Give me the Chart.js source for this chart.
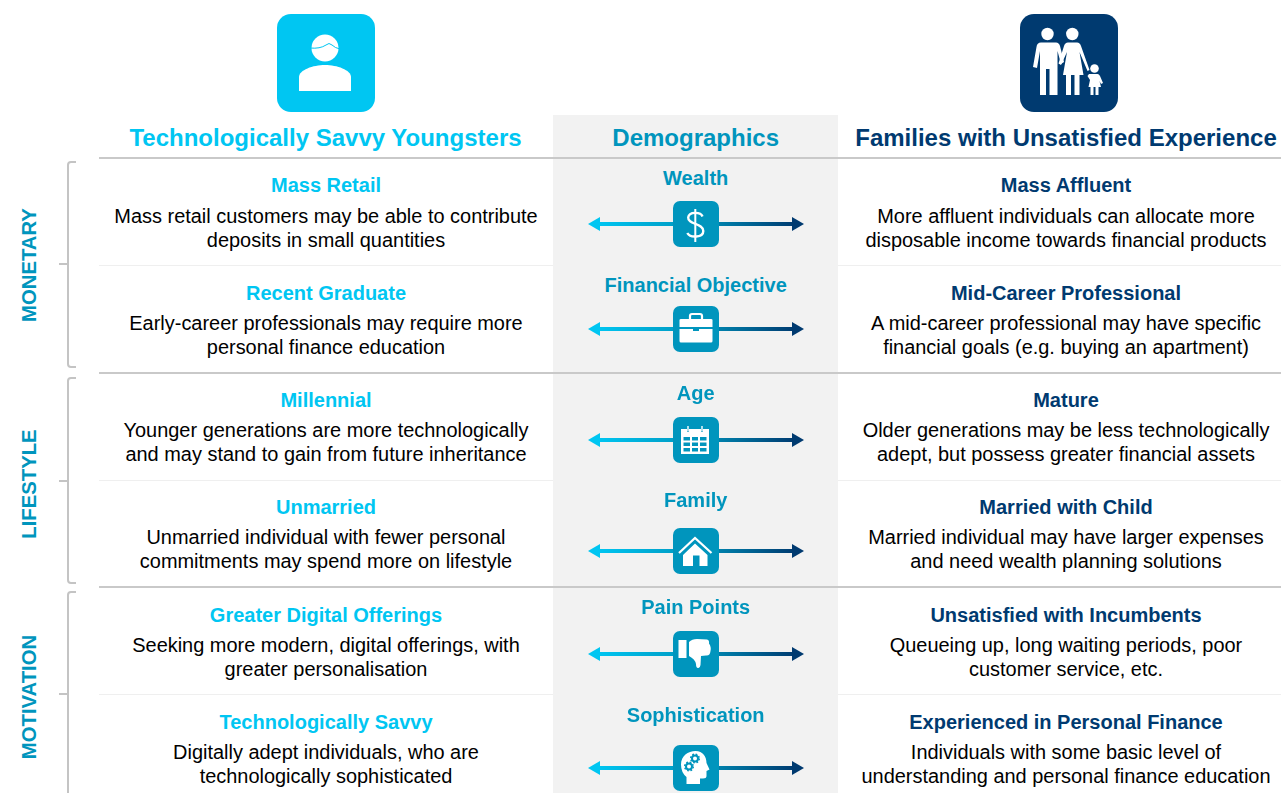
<!DOCTYPE html>
<html>
<head>
<meta charset="utf-8">
<title>Demographics</title>
<script src="https://cdn.jsdelivr.net/npm/chart.js@4"></script>
<style>
  html, body { margin: 0; padding: 0; background: #fff; overflow: hidden; }
  #page { position: relative; width: 1281px; height: 793px; overflow: hidden; font-family: "Liberation Sans", Arial, sans-serif; }
  #page div.t { position: absolute; text-align: center; white-space: nowrap; transform: translate(-50%, -50%); }
  .hdr { font-size: 24px; font-weight: bold; }
  .ttl { font-size: 20px; font-weight: bold; }
  .dem { font-size: 20px; font-weight: bold; color: #0095bd; }
  .bdy { font-size: 19.96px; line-height: 24px; color: #000; }
  .sec { font-size: 20.3px; font-weight: bold; color: #0095bd; }
  #column { position: absolute; left: 553px; top: 115px; width: 285px; height: 678px; background: #f2f2f2; }
  svg { position: absolute; left: 0; top: 0; }
  canvas { position: absolute; }
</style>
</head>
<body>
<div id="page"><div id="column"></div></div>
<script>
const headers = ['Technologically Savvy Youngsters', 'Demographics', 'Families with Unsatisfied Experience'];
const sections = ['MONETARY', 'LIFESTYLE', 'MOTIVATION'];
const demographics = ['Wealth', 'Financial Objective', 'Age', 'Family', 'Pain Points', 'Sophistication'];
const leftTitles = ['Mass Retail', 'Recent Graduate', 'Millennial', 'Unmarried', 'Greater Digital Offerings', 'Technologically Savvy'];
const leftBodies = [
  ['Mass retail customers may be able to contribute', 'deposits in small quantities'],
  ['Early-career professionals may require more', 'personal finance education'],
  ['Younger generations are more technologically', 'and may stand to gain from future inheritance'],
  ['Unmarried individual with fewer personal', 'commitments may spend more on lifestyle'],
  ['Seeking more modern, digital offerings, with', 'greater personalisation'],
  ['Digitally adept individuals, who are', 'technologically sophisticated']
];
const rightTitles = ['Mass Affluent', 'Mid-Career Professional', 'Mature', 'Married with Child', 'Unsatisfied with Incumbents', 'Experienced in Personal Finance'];
const rightBodies = [
  ['More affluent individuals can allocate more', 'disposable income towards financial products'],
  ['A mid-career professional may have specific', 'financial goals (e.g. buying an apartment)'],
  ['Older generations may be less technologically', 'adept, but possess greater financial assets'],
  ['Married individual may have larger expenses', 'and need wealth planning solutions'],
  ['Queueing up, long waiting periods, poor', 'customer service, etc.'],
  ['Individuals with some basic level of', 'understanding and personal finance education']
];
const arrowLeftX = [-1, 0];
const arrowRightX = [0, 1];
const arrowLevel = [0, 0];

// layout (page pixels)
const titleTop = [185, 293, 400, 507, 615, 722];
const bodyTop = [228, 335, 442, 549, 657, 764];
const demTop = [178, 285, 393, 500, 607, 715];
const arrowTop = [224, 329, 440, 551, 654, 768];
const sectionTop = [265, 484, 697];
const brackets = [[162, 264, 367], [378, 481, 583], [592, 694, 820]];
const strongRules = [158, 373, 587];
const faintRules = [265, 480, 694];
const LEFT_X = 326, MID_X = 695.7, RIGHT_X = 1066;
const CYAN = '#00c6f2', TEAL = '#0095bd', NAVY = '#003a70';

const page = document.getElementById('page');

function addText(cls, text, x, y, color) {
  const d = document.createElement('div');
  d.className = 't ' + cls;
  d.style.left = x + 'px';
  d.style.top = y + 'px';
  if (color) d.style.color = color;
  d.innerHTML = text;
  page.appendChild(d);
  return d;
}

// white glyphs inside a 46px rounded box
const glyphs = [
  // dollar
  `<path d="M29.5 15.5C28 11 16 10 15.2 16.5 14.5 23 30.3 22.5 30.3 30 30.3 37 17 37 14.3 32" fill="none" stroke="#fff" stroke-width="2.4"/><path d="M22.3 8V41" stroke="#fff" stroke-width="2"/>`,
  // briefcase
  `<path d="M17 13V10Q17 8 19 8H27Q29 8 29 10V13" fill="none" stroke="#fff" stroke-width="2.2"/><path d="M6.5 14Q6.5 13 8 13H38Q39.5 13 39.5 14V21H6.5ZM6.5 23H20V25H26V23H39.5V35Q39.5 36.5 38 36.5H8Q6.5 36.5 6.5 35Z" fill="#fff"/>`,
  // calendar
  `<path d="M8 12H14V14Q15 16 16 14V12H28V14Q29 16 30 14V12H36V37H8ZM10.5 20V23.5H17V20ZM19 20V23.5H25V20ZM27 20V23.5H33.5V20ZM10.5 25.5V29H17V25.5ZM19 25.5V29H25V25.5ZM27 25.5V29H33.5V25.5ZM10.5 31V34.5H17V31ZM19 31V34.5H25V31ZM27 31V34.5H33.5V31Z" fill="#fff" fill-rule="evenodd"/><path d="M15 9V14M29 9V14" stroke="#fff" stroke-width="1.4"/>`,
  // house
  `<path d="M6 25L22 10 38.500 25" fill="none" stroke="#fff" stroke-width="2.2"/><path d="M10 27L22 15.500 34.500 27V38H26.500V27.500H20V38H10Z" fill="#fff"/>`,
  // thumb down
  `<rect x="5.500" y="9" width="8" height="18" fill="#fff"/><path d="M16 11Q19 8 24 8L34 8.500Q36.500 9 36 12.500Q38.500 16 37.500 20Q37 25 33 24.500L28 25 27.500 34Q27 37.500 25 37 23 37 23 33 22 28 16 25Z" fill="#fff"/>`,
  // head with gears
  `<path d="M8 19.500C8 11 15 6 22.500 6 30 6 33.500 12 33.500 18L36.500 24.500 33.500 26V31Q33.500 33.500 30 33.500H27V39H13.500V32Q8 27.500 8 19.500Z" fill="#fff"/><circle cx="22" cy="13.500" r="3" fill="none" stroke="#0095bd" stroke-width="2"/><circle cx="22" cy="13.500" r="4.300" fill="none" stroke="#0095bd" stroke-width="1.500" stroke-dasharray="1.700 1.700"/><circle cx="16" cy="21.500" r="3" fill="none" stroke="#0095bd" stroke-width="2"/><circle cx="16" cy="21.500" r="4.300" fill="none" stroke="#0095bd" stroke-width="1.500" stroke-dasharray="1.700 1.700"/>`
];

const personIcon = `<rect width="98" height="98" rx="14" fill="${CYAN}"/>
  <circle cx="48" cy="34" r="13.500" fill="#fff"/>
  <path d="M33 34Q43 35 49 31 52 28 55 31 58 34 63 35" fill="none" stroke="${CYAN}" stroke-width="1"/>
  <path d="M22 77V63C22 56 36 51 48 51 60 51 74 56 74 63V77Z" fill="#fff"/>`;

const familyIcon = `<rect width="98" height="98" rx="14" fill="${NAVY}"/>
  <circle cx="27.500" cy="20" r="6.200" fill="#fff"/><circle cx="52.300" cy="20" r="6.200" fill="#fff"/><circle cx="74.500" cy="54.500" r="4.300" fill="#fff"/>
  <path d="M21 28.500H36Q39 28.500 40 32L44 48 41 50 37.500 37V81H29.500V55H26V81H20V37L17 54 13 53 16.500 33Q17 28.500 21 28.500Z" fill="#fff"/>
  <path d="M48 28.500H57Q60 28.500 61 32L69.500 56 67.500 57 59.500 38 63.500 61H59.500V81H54.500V61H51V81H46V61H43L47 38 41 51 38.500 49.500 44 32Q45 28.500 48 28.500Z" fill="#fff"/>
  <path d="M71.500 60H77.500Q79 60 80 62L83 69 81 70 79.500 67 81 73H78.500V81H75.500V73H73.500V81H70.500V73H68.500L70 66 67.500 62 69 60Z" fill="#fff"/>`;

// rules, brackets and icons
let svg = `<svg width="1281" height="793" xmlns="http://www.w3.org/2000/svg">`;
strongRules.forEach(y => { svg += `<rect x="99" y="${y - 1}" width="1182" height="2" fill="#c9c9c9"/>`; });
faintRules.forEach(y => {
  svg += `<rect x="99" y="${y}" width="454" height="1" fill="#efefef"/><rect x="838" y="${y}" width="443" height="1" fill="#efefef"/>`;
});
brackets.forEach(([a, m, b]) => {
  svg += `<path d="M76 ${a}H71Q68 ${a} 68 ${a + 3}V${b - 3}Q68 ${b} 71 ${b}H76M59 ${m}H68" fill="none" stroke="#c4c4c4" stroke-width="2"/>`;
});
svg += `<g transform="translate(277,14)">${personIcon}</g><g transform="translate(1020,14)">${familyIcon}</g>`;
page.insertAdjacentHTML('beforeend', svg + '</svg>');

addText('hdr', headers[0], LEFT_X - 0.5, 138, CYAN);
addText('hdr', headers[1], MID_X, 138, TEAL);
addText('hdr', headers[2], 1066, 138, NAVY);

sections.forEach((s, i) => {
  const d = addText('sec', s, 29, sectionTop[i]);
  d.style.transform = 'translate(-50%, -50%) rotate(-90deg)';
});

demographics.forEach((name, i) => {
  addText('ttl', leftTitles[i], LEFT_X, titleTop[i], CYAN);
  addText('bdy', leftBodies[i].join('<br>'), LEFT_X, bodyTop[i]);
  addText('dem', name, MID_X, demTop[i]);
  addText('ttl', rightTitles[i], RIGHT_X, titleTop[i], NAVY);
  addText('bdy', rightBodies[i].join('<br>'), RIGHT_X, bodyTop[i]);

  const canvas = document.createElement('canvas');
  canvas.width = 285;
  canvas.height = 30;
  canvas.style.left = '553px';
  canvas.style.top = (arrowTop[i] - 15) + 'px';
  page.appendChild(canvas);
  drawArrow(canvas);

  page.insertAdjacentHTML('beforeend', `<svg style="left:${MID_X - 23}px;top:${arrowTop[i] - 23}px" width="46" height="46" viewBox="0 0 46 46"><rect width="46" height="46" rx="7" fill="${TEAL}"/>${glyphs[i]}</svg>`);
});

function arrowGradient(ctx, from, to) {
  const area = ctx.chart.chartArea;
  if (!area) return from;
  const mid = (area.left + area.right) / 2;
  const toLeft = from === CYAN;
  const g = ctx.chart.ctx.createLinearGradient(toLeft ? area.left : mid, 0, toLeft ? mid : area.right, 0);
  g.addColorStop(0, from);
  g.addColorStop(1, to);
  return g;
}

function drawArrow(canvas) {
  return new Chart(canvas, {
    type: 'scatter',
    data: {
      datasets: [
        {
          data: arrowLeftX.map((x, k) => ({ x, y: arrowLevel[k] })),
          showLine: true,
          clip: false,
          borderWidth: 4,
          borderColor: ctx => arrowGradient(ctx, CYAN, TEAL),
          pointStyle: 'triangle',
          pointRadius: [8, 0],
          pointRotation: [-90, 0],
          pointBackgroundColor: CYAN,
          pointBorderWidth: 0
        },
        {
          data: arrowRightX.map((x, k) => ({ x, y: arrowLevel[k] })),
          showLine: true,
          clip: false,
          borderWidth: 4,
          borderColor: ctx => arrowGradient(ctx, TEAL, NAVY),
          pointStyle: 'triangle',
          pointRadius: [0, 8],
          pointRotation: [0, 90],
          pointBackgroundColor: NAVY,
          pointBorderWidth: 0
        }
      ]
    },
    options: {
      responsive: false,
      animation: false,
      layout: { padding: { left: 43, right: 42, top: 0, bottom: 0 } },
      plugins: { legend: { display: false }, tooltip: { enabled: false } },
      scales: {
        x: { display: false, min: -1, max: 1 },
        y: { display: false, min: -1, max: 1 }
      }
    }
  });
}
</script>
</body>
</html>
